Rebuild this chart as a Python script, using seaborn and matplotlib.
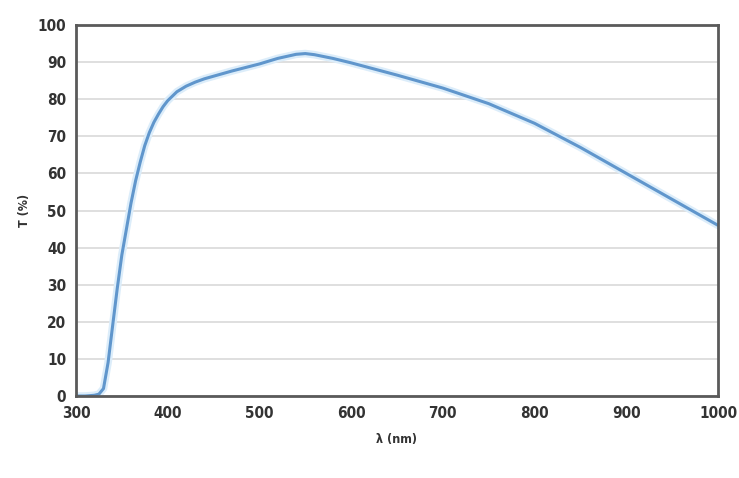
import pandas as pd
import matplotlib
matplotlib.use("Agg")
import matplotlib.pyplot as plt
import seaborn as sns

# transmission curve
wavelength = [300, 310, 320, 325, 330, 335, 340, 345, 350, 355, 360, 365, 370,
              375, 380, 385, 390, 395, 400, 410, 420, 430, 440, 450, 470, 500, 520, 540,
              550, 560, 580, 600, 650, 700, 750, 800, 850, 900, 950, 1000]
transmission = [0, 0, 0.2, 0.5, 2, 9, 19, 29, 38, 45, 52, 58, 63,
                67.5, 71, 73.8, 76, 78, 79.6, 82, 83.5, 84.6, 85.5, 86.2, 87.6, 89.5, 91, 92.1,
                92.3, 92, 91, 89.8, 86.5, 83, 78.8, 73.5, 67, 60, 53, 46]
x_ticks = [300, 400, 500, 600, 700, 800, 900, 1000]
y_ticks = [0, 10, 20, 30, 40, 50, 60, 70, 80, 90, 100]

df = pd.DataFrame({"wl": wavelength, "T": transmission})

sns.set_style("white")
plt.rcParams["font.family"] = ["DejaVu Sans"]
plt.rcParams["font.stretch"] = "condensed"

fig = plt.figure(figsize=(7.39, 4.78), dpi=100)
ax = fig.add_axes([0.1028, 0.1715, 0.8688, 0.7762])

# soft halo then the line
sns.lineplot(data=df, x="wl", y="T", ax=ax, color="#dcedfa", linewidth=5.5)
sns.lineplot(data=df, x="wl", y="T", ax=ax, color="#6096cc", linewidth=2.2)

ax.set_xlim(300, 1000)
ax.set_ylim(0, 100)
ax.set_xticks(x_ticks)
ax.set_yticks(y_ticks)
ax.set_xticklabels([str(t) for t in x_ticks], fontsize=11, fontweight="bold", color="#333333")
ax.set_yticklabels([str(t) for t in y_ticks], fontsize=11, fontweight="bold", color="#333333")
ax.tick_params(length=0, pad=7)
ax.yaxis.grid(True, color="#dcdcdc", linewidth=1.3)
ax.set_axisbelow(True)
for s in ax.spines.values():
    s.set_color("#5a5a5a")
    s.set_linewidth(2)

ax.set_xlabel("λ (nm)", fontsize=9, fontweight="bold", color="#333333", labelpad=9)
ax.set_ylabel("T (%)", fontsize=9, fontweight="bold", color="#333333", labelpad=5)

fig.savefig("out.png", dpi=100)
